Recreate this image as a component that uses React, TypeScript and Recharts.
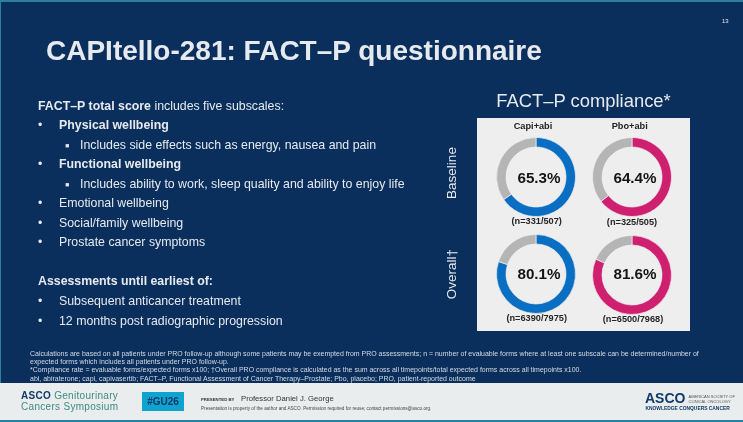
import React from 'react';
import { PieChart, Pie, Cell } from 'recharts';

const arms = ['Capi+abi', 'Pbo+abi'];
const timepoints = ['Baseline', 'Overall†'];
const capiCompliance = [65.3, 80.1];
const pboCompliance = [64.4, 81.6];
const capiCounts = ['(n=331/507)', '(n=6390/7975)'];
const pboCounts = ['(n=325/505)', '(n=6500/7968)'];

const FONT = '"Liberation Sans", Arial, sans-serif';
const NAVY = '#0b2f5c';
const INK = '#e6eaee';
const GREY = '#b5b5b5';
const BLUE = '#0a6fc2';
const PINK = '#cf2070';
const BODY = 12.35;

const bullets: [number, string, string, boolean][] = [
  [125, '•', 'Physical wellbeing', true],
  [163.5, '•', 'Functional wellbeing', true],
  [203, '•', 'Emotional wellbeing', false],
  [222.5, '•', 'Social/family wellbeing', false],
  [242, '•', 'Prostate cancer symptoms', false],
  [300.5, '•', 'Subsequent anticancer treatment', false],
  [320.5, '•', '12 months post radiographic progression', false],
];
const subBullets: [number, string][] = [
  [144.5, 'Includes side effects such as energy, nausea and pain'],
  [183.5, 'Includes ability to work, sleep quality and ability to enjoy life'],
];
const footnotes: [number, string][] = [
  [352.5, 'Calculations are based on all patients under PRO follow-up although some patients may be exempted from PRO assessments; n = number of evaluable forms where at least one subscale can be determined/number of'],
  [361, 'expected forms which includes all patients under PRO follow-up.'],
  [369, '*Compliance rate = evaluable forms/expected forms x100; †Overall PRO compliance is calculated as the sum across all timepoints/total expected forms across all timepoints x100.'],
  [377.5, 'abi, abiraterone; capi, capivasertib; FACT–P, Functional Assessment of Cancer Therapy–Prostate; Pbo, placebo; PRO, patient-reported outcome'],
];

function T(p: { x: number; y: number; size: number; color?: string; bold?: boolean; center?: boolean; children: React.ReactNode; ls?: number }) {
  return (
    <div
      style={{
        position: 'absolute',
        left: p.x,
        top: p.y,
        transform: p.center ? 'translate(-50%,-50%)' : 'translateY(-50%)',
        fontSize: p.size,
        fontWeight: p.bold ? 700 : 400,
        color: p.color ?? INK,
        whiteSpace: 'nowrap',
        lineHeight: 1,
        letterSpacing: p.ls ?? 0,
      }}
    >
      {p.children}
    </div>
  );
}

function Donut({ value, color, left, top }: { value: number; color: string; left: number; top: number }) {
  const data = [
    { name: 'Compliant', value },
    { name: 'Missing', value: 100 - value },
  ];
  return (
    <div style={{ position: 'absolute', left, top }}>
      <PieChart width={84} height={84} margin={{ top: 0, right: 0, bottom: 0, left: 0 }}>
        <Pie
          data={data}
          dataKey="value"
          cx={42}
          cy={42}
          innerRadius={30}
          outerRadius={39.5}
          startAngle={90}
          endAngle={-270}
          stroke="#f0f0f0"
          strokeWidth={0.7}
          isAnimationActive={false}
        >
          <Cell fill={color} />
          <Cell fill={GREY} />
        </Pie>
      </PieChart>
    </div>
  );
}

export default function App() {
  const cols = [
    { cx: 536, values: capiCompliance, counts: capiCounts, color: BLUE, cy: [176.5, 273.5], ty: [177.5, 274], ny: [221.7, 319], tx: 539, nx: [536.7, 536.7], hx: 533 },
    { cx: 632, values: pboCompliance, counts: pboCounts, color: PINK, cy: [176.5, 274.5], ty: [177.5, 274], ny: [223, 320], tx: 635, nx: [632, 633], hx: 629.7 },
  ];
  return (
    <div style={{ position: 'absolute', left: 0, top: 0, width: 743, height: 422, overflow: 'hidden', background: NAVY, fontFamily: FONT, filter: 'blur(0.3px)' }}>
      <div style={{ position: 'absolute', left: 0, top: 0, width: 743, height: 2, background: '#2b7f9f' }} />
      <div style={{ position: 'absolute', left: 0, top: 0, width: 1, height: 422, background: '#2b7f9f' }} />
      <T x={722} y={20.5} size={6}>13</T>
      <T x={46} y={50.5} size={28} bold>CAPItello-281: FACT–P questionnaire</T>

      <T x={38} y={105.5} size={BODY}><b>FACT–P total score</b> includes five subscales:</T>
      {bullets.map(([y, b, s, bold]) => (
        <React.Fragment key={s}>
          <T x={38} y={y} size={BODY}>{b}</T>
          <T x={59} y={y} size={BODY} bold={bold}>{s}</T>
        </React.Fragment>
      ))}
      {subBullets.map(([y, s]) => (
        <React.Fragment key={s}>
          <T x={65} y={y} size={13}>▪</T>
          <T x={80} y={y} size={BODY}>{s}</T>
        </React.Fragment>
      ))}
      <T x={38} y={281} size={BODY} bold>Assessments until earliest of:</T>

      <T x={583.5} y={101} size={18.4} center>FACT–P compliance*</T>
      <div style={{ position: 'absolute', left: 477, top: 118, width: 213, height: 213, background: '#eeeeee' }} />
      {timepoints.map((t, i) => (
        <div key={t} style={{ position: 'absolute', left: 452, top: [173, 274][i], transform: 'translate(-50%,-50%) rotate(-90deg)', fontSize: 13.5, color: INK, whiteSpace: 'nowrap', lineHeight: 1 }}>{t}</div>
      ))}
      {cols.map((c, a) => (
        <React.Fragment key={arms[a]}>
          <T x={c.hx} y={126.5} size={9.2} color="#222" bold center>{arms[a]}</T>
          {c.values.map((v, i) => (
            <React.Fragment key={v}>
              <Donut value={v} color={c.color} left={c.cx - 42} top={c.cy[i] - 42} />
              <T x={c.tx} y={c.ty[i]} size={15.2} color="#151515" bold center>{v.toFixed(1)}%</T>
              <T x={c.nx[i]} y={c.ny[i]} size={9.2} color="#262626" bold center>{c.counts[i]}</T>
            </React.Fragment>
          ))}
        </React.Fragment>
      ))}

      {footnotes.map(([y, s]) => (
        <T key={y} x={30} y={y} size={6.98} color="#d5dbe2">{s}</T>
      ))}

      <div style={{ position: 'absolute', left: 0, top: 383, width: 743, height: 37, background: '#e9eded' }} />
      <div style={{ position: 'absolute', left: 0, top: 420, width: 743, height: 2, background: '#2b7f9f' }} />
      <T x={21} y={396.4} size={10} color="#123a66" ls={0.3}><b>ASCO</b><span style={{ color: '#3f8b84' }}> Genitourinary</span></T>
      <T x={21} y={406.7} size={10} color="#3f8b84" ls={0.3}>Cancers Symposium</T>
      <div style={{ position: 'absolute', left: 142, top: 392, width: 42, height: 19, background: '#0fa3cf', color: '#123a66', fontSize: 10, fontWeight: 700, display: 'flex', alignItems: 'center', justifyContent: 'center' }}>#GU26</div>
      <T x={201} y={399.7} size={4.3} color="#333" bold>PRESENTED BY</T>
      <T x={241} y={398.7} size={7.7} color="#333">Professor Daniel J. George</T>
      <T x={201} y={408.7} size={4.65} color="#444">Presentation is property of the author and ASCO. Permission required for reuse; contact permissions@asco.org.</T>
      <T x={645} y={398} size={14} color="#123a66" bold>ASCO</T>
      <T x={688.5} y={396.5} size={4} color="#555">AMERICAN SOCIETY OF</T>
      <T x={688.5} y={401.5} size={4} color="#555">CLINICAL ONCOLOGY</T>
      <T x={645.5} y={409} size={4.9} color="#123a66" bold>KNOWLEDGE CONQUERS CANCER</T>
    </div>
  );
}
